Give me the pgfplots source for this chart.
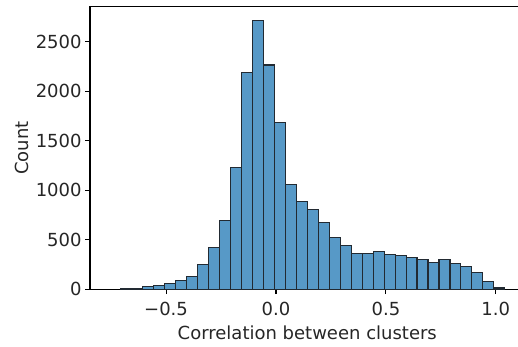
\documentclass[border=0pt]{standalone}
\usepackage{pgfplots}
\pgfplotsset{compat=1.18}
\usepackage{fontspec}
\setmainfont{DejaVu Sans}
\definecolor{barfill}{RGB}{87,153,199}
\definecolor{baredge}{RGB}{34,42,50}
\begin{document}
\begin{tikzpicture}
\begin{axis}[
  at={(0,0)}, anchor=south west,
  scale only axis,
  width=434.6pt, height=282.6pt,
  xmin=-0.846, xmax=1.131, ymin=0, ymax=2856,
  xtick={-0.5,0,0.5,1.0}, xticklabels={−0.5,0.0,0.5,1.0},
  ytick={0,500,1000,1500,2000,2500}, yticklabels={0,500,1000,1500,2000,2500},
  tick align=outside, xtick pos=bottom, ytick pos=left,
  major tick length=4.9pt,
  every tick/.style={black, line width=1.1pt},
  axis line style={black, line width=1.1pt},
  ticklabel style={font=\fontsize{18}{21}\selectfont, text=black!85},
  xticklabel style={yshift=-4pt},
  label style={font=\fontsize{18}{21}\selectfont, text=black!85},
  xlabel style={yshift=-4pt},
  xlabel={Correlation between clusters},
  ylabel={Count},
]
\addplot[ybar interval, fill=barfill, draw=baredge, line width=1.1pt] coordinates {
(-0.7060,8) (-0.6561,10) (-0.6062,25) (-0.5563,42) (-0.5063,60)
(-0.4564,92) (-0.4065,132) (-0.3566,250) (-0.3067,422) (-0.2568,695)
(-0.2069,1231) (-0.1569,2190) (-0.1070,2712) (-0.0571,2267) (-0.0072,1690)
(0.0427,1063) (0.0926,888) (0.1425,811) (0.1924,679) (0.2424,524)
(0.2923,443) (0.3422,364) (0.3921,364) (0.4420,379) (0.4919,352)
(0.5418,339) (0.5918,325) (0.6417,300) (0.6916,275) (0.7415,300)
(0.7914,260) (0.8413,234) (0.8912,167) (0.9411,76) (0.9911,13)
(1.0410,13)
};
\end{axis}
\pgfresetboundingbox
\useasboundingbox (-90pt,-57.7pt) rectangle (428pt,289.3pt);
\end{tikzpicture}
\end{document}
